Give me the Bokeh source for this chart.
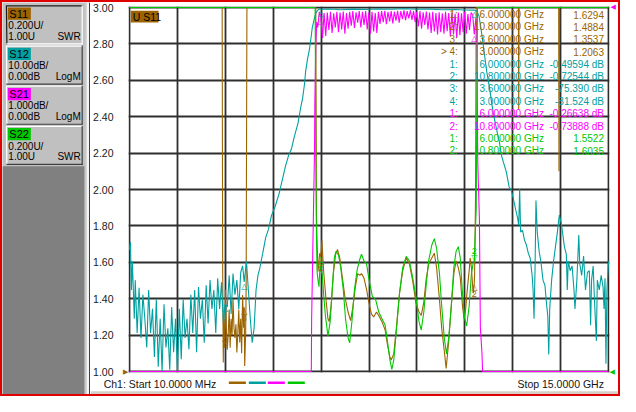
import numpy as np
from bokeh.core.properties import value
from bokeh.embed import file_html
from bokeh.layouts import column, row
from bokeh.models import (ColumnDataSource, FixedTicker, Grid, LinearAxis,
                          PrintfTickFormatter, Range1d)
from bokeh.plotting import figure
from bokeh.resources import INLINE

# ---- channel setup ----
start_ghz, stop_ghz = 0.01, 15.0
n_div = 10
swr_ref, swr_per_div = 1.00, 0.200      # S11 / S22, ref line at bottom
s12_ref, s12_per_div = 0.0, 10.0        # dB, ref line at top
s21_ref, s21_per_div = 0.0, 1.0         # dB, ref line at top

traces = ["S11", "S12", "S21", "S22"]
trace_scale = ["0.200U/", "10.00dB/", "1.000dB/", "0.200U/"]
trace_refval = ["1.00U", "0.00dB", "0.00dB", "1.00U"]
trace_format = ["SWR", "LogM", "LogM", "SWR"]
trace_colors = ["#9c6400", "#00a0a0", "#ff00ff", "#00c800"]

swr_ticks = [1.00, 1.20, 1.40, 1.60, 1.80, 2.00, 2.20, 2.40, 2.60, 2.80, 3.00]

# ---- traces ----
s11_freq = [0.01, 2.91, 2.925, 2.945, 2.96, 2.98, 3.00, 3.01, 3.04, 3.07,
            3.10, 3.13, 3.16, 3.19, 3.22, 3.25, 3.28, 3.31, 3.34, 3.37,
            3.40, 3.43, 3.46, 3.49, 3.52, 3.55, 3.58, 3.60, 3.615, 3.645,
            3.66, 3.675, 3.685, 5.84, 5.86, 5.88, 5.91, 5.94, 5.96, 6.00,
            6.03, 6.09, 6.16, 6.22, 6.26, 6.32, 6.39, 6.46, 6.52, 6.59,
            6.67, 6.75, 6.85, 6.93, 7.00, 7.08, 7.15, 7.22, 7.27, 7.35,
            7.43, 7.50, 7.58, 7.65, 7.74, 7.81, 7.91, 8.01, 8.08, 8.16,
            8.20, 8.28, 8.36, 8.46, 8.56, 8.67, 8.77, 8.87, 8.97, 9.07,
            9.14, 9.22, 9.29, 9.37, 9.47, 9.55, 9.62, 9.71, 9.78, 9.86,
            9.92, 10.00, 10.08, 10.16, 10.23, 10.30, 10.36, 10.43, 10.48, 10.53,
            10.58, 10.64, 10.67, 10.71, 10.75, 10.77, 10.80, 10.81, 10.84, 10.86,
            12.18, 12.19, 12.20, 13.44, 13.45, 13.47, 15.00]
s11_swr = [3.0, 3.0, 1.59, 1.05, 1.29, 1.13, 1.2063, 1.45, 1.24, 1.12,
           1.21, 1.34, 1.13, 1.29, 1.20, 1.40, 1.24, 1.185, 1.26, 1.105,
           1.21, 1.34, 1.16, 1.29, 1.10, 1.42, 1.24, 1.3537, 1.03, 1.21,
           1.45, 2.40, 3.0, 3.0, 1.87, 1.71, 1.55, 1.60, 1.65, 1.6294,
           1.72, 1.54, 1.396, 1.29, 1.274, 1.36, 1.538, 1.644, 1.67, 1.624,
           1.519, 1.413, 1.327, 1.28, 1.354, 1.466, 1.538, 1.528, 1.538, 1.512,
           1.45, 1.38, 1.317, 1.30, 1.327, 1.308, 1.274, 1.228, 1.149, 1.08,
           1.063, 1.097, 1.237, 1.43, 1.554, 1.624, 1.59, 1.501, 1.38, 1.327,
           1.308, 1.38, 1.501, 1.59, 1.624, 1.65, 1.571, 1.396, 1.237, 1.114,
           1.017, 1.167, 1.36, 1.538, 1.607, 1.571, 1.519, 1.36, 1.29, 1.343,
           1.45, 1.554, 1.624, 1.571, 1.466, 1.43, 1.4884, 1.538, 1.976, 3.0,
           3.0, 2.44, 3.0, 3.0, 2.10, 3.0, 3.0]

s12_freq = [0.01, 0.04, 0.07, 0.10, 0.16, 0.19, 0.25, 0.31, 0.37, 0.43,
            0.49, 0.55, 0.61, 0.67, 0.73, 0.79, 0.85, 0.91, 0.97, 1.03,
            1.09, 1.15, 1.21, 1.27, 1.33, 1.39, 1.45, 1.51, 1.57, 1.63,
            1.69, 1.75, 1.81, 1.87, 1.93, 1.99, 2.05, 2.11, 2.17, 2.23,
            2.29, 2.35, 2.41, 2.47, 2.53, 2.59, 2.65, 2.71, 2.77, 2.83,
            2.89, 2.95, 3.00, 3.07, 3.13, 3.19, 3.25, 3.31, 3.37, 3.43,
            3.49, 3.55, 3.60, 3.67, 3.73, 3.79, 3.85, 3.91, 3.97, 4.03,
            4.09, 4.18, 4.27, 4.36, 4.45, 4.57, 4.69, 4.81, 4.90, 4.99,
            5.08, 5.17, 5.28, 5.37, 5.43, 5.49, 5.52, 5.58, 5.64, 5.70,
            5.73, 5.79, 5.83, 5.89, 5.95, 6.00, 6.30, 6.60, 7.00, 7.40,
            7.80, 8.20, 8.60, 9.00, 9.40, 9.80, 10.20, 10.50, 10.80, 10.88,
            10.95, 11.04, 11.10, 11.19, 11.28, 11.35, 11.43, 11.49, 11.59, 11.65,
            11.71, 11.80, 11.89, 11.95, 12.01, 12.10, 12.16, 12.19, 12.22, 12.25,
            12.31, 12.37, 12.43, 12.49, 12.55, 12.61, 12.64, 12.67, 12.70, 12.73,
            12.77, 12.83, 12.89, 12.95, 13.01, 13.07, 13.10, 13.13, 13.16, 13.22,
            13.28, 13.34, 13.40, 13.46, 13.53, 13.56, 13.62, 13.68, 13.71, 13.74,
            13.80, 13.86, 13.92, 13.95, 14.01, 14.07, 14.10, 14.16, 14.22, 14.28,
            14.34, 14.40, 14.44, 14.47, 14.52, 14.56, 14.62, 14.65, 14.71, 14.77,
            14.83, 14.86, 14.89, 14.92, 14.95, 15.00]
s12_db = [-66.5, -64.4, -77.6, -69.7, -85.5, -74.9, -89.4, -77.0, -90.8, -78.9,
          -85.5, -93.4, -77.6, -89.4, -82.8, -96.0, -80.2, -98.7, -85.5, -100.0,
          -81.5, -93.4, -88.1, -99.5, -82.3, -94.7, -85.5, -100.0, -82.8, -96.6,
          -80.2, -90.8, -85.5, -93.9, -78.9, -89.4, -77.6, -94.7, -76.8, -85.5,
          -80.2, -92.1, -76.3, -86.8, -74.9, -82.8, -77.6, -89.4, -74.4, -82.8,
          -75.5, -86.8, -81.5, -82.3, -73.6, -84.2, -73.1, -78.9, -74.9, -82.8,
          -72.8, -71.0, -75.4, -69.7, -77.6, -85.5, -92.1, -88.1, -77.6, -73.6,
          -71.5, -67.5, -63.3, -60.9, -57.3, -54.6, -51.2, -46.7, -43.3, -40.6,
          -38.8, -35.4, -31.9, -27.4, -24.8, -20.8, -17.7, -14.2, -11.6, -7.7,
          -5.5, -3.2, -1.8, -0.8, -0.4, -0.50, -0.40, -0.62, -0.45, -0.55,
          -0.40, -0.50, -0.35, -0.50, -0.45, -0.60, -0.55, -0.68, -0.73, -1.0,
          -2.4, -7.7, -11.6, -17.7, -22.2, -26.6, -30.6, -33.2, -37.2, -40.6,
          -42.5, -45.1, -49.3, -50.1, -52.0, -55.7, -58.0, -59.9, -49.9, -61.7,
          -61.2, -63.9, -65.2, -67.5, -68.9, -73.6, -77.6, -85.5, -72.3, -53.0,
          -61.7, -67.0, -70.2, -74.9, -76.3, -82.3, -84.7, -95.3, -82.8, -74.9,
          -69.7, -65.7, -61.7, -57.0, -59.6, -61.7, -65.7, -67.8, -77.6, -69.7,
          -72.3, -71.0, -77.6, -82.8, -74.9, -62.5, -70.4, -73.6, -68.3, -77.6,
          -72.8, -72.3, -87.3, -74.9, -71.0, -80.2, -91.6, -74.9, -77.6, -73.6,
          -76.8, -82.8, -74.4, -97.9, -77.6, -69.7]

s21_freq = [0.01, 5.70, 5.71, 5.77, 5.80, 5.81, 5.84, 5.87,
            5.90, 5.95, 6.00, 6.05, 6.10, 6.15, 6.20, 6.25, 6.30, 6.35,
            6.40, 6.45, 6.50, 6.55, 6.60, 6.65, 6.70, 6.75, 6.80, 6.85,
            6.90, 6.95, 7.00, 7.05, 7.10, 7.15, 7.20, 7.25, 7.30, 7.35,
            7.40, 7.45, 7.50, 7.55, 7.60, 7.65, 7.70, 7.75, 7.80, 7.85,
            7.90, 7.95, 8.00, 8.05, 8.10, 8.15, 8.20, 8.25, 8.30, 8.35,
            8.40, 8.45, 8.50, 8.55, 8.60, 8.65, 8.70, 8.75, 8.80, 8.85,
            8.90, 8.95, 9.00, 9.05, 9.10, 9.15, 9.20, 9.25, 9.30, 9.35,
            9.40, 9.45, 9.50, 9.55, 9.60, 9.65, 9.70, 9.75, 9.80, 9.85,
            9.90, 9.95, 10.00, 10.05, 10.10, 10.15, 10.20, 10.25, 10.30, 10.35,
            10.40, 10.45, 10.50, 10.55, 10.60, 10.65, 10.70, 10.75, 10.80, 10.85,
            10.88, 10.89, 10.91, 10.96, 10.99, 11.04, 11.06, 15.00]
s21_db = [-10.0, -10.0, -8.55, -5.46, -3.96, -2.66, -1.00, -0.40,
          -0.55, -0.12, -0.27, -0.84, -0.15, -0.78, -0.14, -0.62, -0.12, -0.70,
          -0.16, -0.55, -0.12, -0.68, -0.14, -0.60, -0.11, -0.72, -0.15, -0.58,
          -0.12, -0.50, -0.10, -0.56, -0.13, -0.42, -0.10, -0.55, -0.12, -0.48,
          -0.10, -0.60, -0.14, -0.72, -0.12, -0.66, -0.15, -0.70, -0.12, -0.45,
          -0.10, -0.40, -0.09, -0.46, -0.12, -0.38, -0.10, -0.44, -0.11, -0.36,
          -0.09, -0.42, -0.10, -0.32, -0.08, -0.35, -0.10, -0.30, -0.08, -0.34,
          -0.10, -0.40, -0.12, -0.52, -0.10, -0.58, -0.13, -0.48, -0.11, -0.60,
          -0.14, -0.70, -0.12, -0.66, -0.15, -0.74, -0.13, -0.68, -0.16, -0.72,
          -0.12, -0.65, -0.15, -0.78, -0.13, -0.74, -0.17, -0.84, -0.14, -0.76,
          -0.16, -0.68, -0.12, -0.72, -0.18, -0.62, -0.14, -0.20, -0.74, -0.30,
          -0.60, -2.00, -4.30, -5.80, -8.80, -9.50, -10.0, -10.0]

s22_freq = [0.01, 5.78, 5.82, 5.84, 5.86, 5.88, 5.91, 5.94, 5.97, 6.00,
            6.04, 6.09, 6.14, 6.22, 6.29, 6.36, 6.42, 6.47, 6.55, 6.62,
            6.70, 6.77, 6.85, 6.90, 6.97, 7.05, 7.13, 7.20, 7.27, 7.35,
            7.43, 7.50, 7.61, 7.71, 7.81, 7.91, 8.01, 8.08, 8.16, 8.22,
            8.28, 8.36, 8.46, 8.56, 8.67, 8.77, 8.87, 8.97, 9.07, 9.14,
            9.22, 9.29, 9.37, 9.47, 9.55, 9.62, 9.71, 9.78, 9.86, 9.93,
            10.00, 10.08, 10.16, 10.23, 10.30, 10.36, 10.43, 10.50, 10.56, 10.64,
            10.71, 10.77, 10.80, 10.82, 10.86, 10.88, 10.90, 15.00]
s22_swr = [3.0, 3.0, 3.0, 2.20, 1.75, 1.55, 1.50, 1.466, 1.58, 1.552,
           1.538, 1.413, 1.308, 1.195, 1.274, 1.466, 1.624, 1.660, 1.640, 1.570,
           1.450, 1.290, 1.185, 1.158, 1.274, 1.450, 1.554, 1.607, 1.644, 1.607,
           1.590, 1.510, 1.413, 1.396, 1.327, 1.290, 1.255, 1.169, 1.063, 1.012,
           1.063, 1.220, 1.430, 1.571, 1.633, 1.607, 1.519, 1.413, 1.274, 1.228,
           1.327, 1.466, 1.607, 1.695, 1.730, 1.677, 1.538, 1.360, 1.185, 1.097,
           1.185, 1.360, 1.571, 1.660, 1.686, 1.624, 1.430, 1.290, 1.250, 1.360,
           1.538, 1.600, 1.6035, 1.710, 1.890, 2.500, 3.0, 3.0]

# ---- markers ----
marker_freq = [6.0, 10.8, 3.6, 3.0]
s11_marker = [1.6294, 1.4884, 1.3537, 1.2063]
s12_marker = [-0.49594, -0.72544, -75.390, -81.524]
s21_marker = [-0.26638, -0.73888]
s22_marker = [1.5522, 1.6035]
active_marker = 4   # on S11

# ---- page layout (reference screen is 636x412 with a 2px red frame) ----
BORDER = 2
IW, IH = 616, 392
SX, SY = IW / 632, IH / 406
PANEL_W = 88
MAIN_W = IW - PANEL_W
MAIN_H = 376
FOOT_H = IH - MAIN_H
ML, MR, MT, MB = 37, 8, 4, 6
FRAME_W = MAIN_W - ML - MR
FRAME_H = MAIN_H - MT - MB
FONT = "Liberation Sans"


def ghz_at(px):
    # screen column of the original display -> GHz
    return start_ghz + (px - 130.7) / 495 * (stop_ghz - start_ghz)


def swr_at(py):
    # screen row of the original display -> SWR units
    return swr_ref + (385 - py) / 379 * n_div * swr_per_div


swr_top = swr_ref + n_div * swr_per_div
s12_bot = s12_ref - n_div * s12_per_div
s21_bot = s21_ref - n_div * s21_per_div
xpad = (stop_ghz - start_ghz) / FRAME_W
ypad = 1.0 / FRAME_H

p = figure(width=MAIN_W, height=MAIN_H, output_backend="svg", toolbar_location=None,
           x_range=Range1d(start_ghz - xpad, stop_ghz + xpad),
           y_range=Range1d(swr_ref - ypad * 2.0, swr_top + ypad * 2.0),
           x_axis_type=None, y_axis_type=None, min_border_left=ML, min_border_right=MR,
           min_border_top=MT, min_border_bottom=MB, frame_align=False)
p.extra_y_ranges = {
    "s12": Range1d(s12_bot - ypad * 100, s12_ref + ypad * 100),
    "s21": Range1d(s21_bot - ypad * 10, s21_ref + ypad * 10),
}
p.background_fill_color = "white"
p.border_fill_color = "white"
p.outline_line_color = None

xdiv = list(np.linspace(start_ghz, stop_ghz, n_div + 1))
p.add_layout(Grid(dimension=0, ticker=FixedTicker(ticks=xdiv),
                  grid_line_color="#2e2e2e", grid_line_width=1.8))
p.add_layout(Grid(dimension=1, ticker=FixedTicker(ticks=swr_ticks),
                  grid_line_color="#2e2e2e", grid_line_width=1.8))


def bare_axis(ticks, **kw):
    ax = LinearAxis(ticker=FixedTicker(ticks=ticks), axis_line_color=None,
                    major_tick_line_color=None, minor_tick_line_color=None,
                    major_tick_out=0, major_tick_in=0, **kw)
    return ax


# reference position arrows next to the grid, then the SWR scale
p.add_layout(bare_axis([swr_ref], major_label_overrides={swr_ref: "\u25b6"},
                       major_label_standoff=0, major_label_text_color=trace_colors[0],
                       major_label_text_font="DejaVu Sans",
                       major_label_text_font_size="7px"), "left")
p.add_layout(bare_axis(swr_ticks, formatter=PrintfTickFormatter(format="%.2f"),
                       major_label_standoff=7, major_label_text_color="#1a1a1a",
                       major_label_text_font=FONT,
                       major_label_text_font_size="10.5px"), "left")
p.add_layout(bare_axis([swr_ref], major_label_overrides={swr_ref: "\u25c0"},
                       major_label_standoff=0, major_label_text_color=trace_colors[3],
                       major_label_text_font="DejaVu Sans",
                       major_label_text_font_size="7px"), "right")
p.add_layout(bare_axis([s21_ref], y_range_name="s21",
                       major_label_overrides={s21_ref: "\u25c0"},
                       major_label_standoff=-7, major_label_text_color=trace_colors[2],
                       major_label_text_font="DejaVu Sans",
                       major_label_text_font_size="7px"), "right")

lw = 1.1
p.line(s11_freq, np.clip(s11_swr, swr_ref, swr_top), color=trace_colors[0], line_width=lw)
p.line(s12_freq, np.clip(s12_db, s12_bot, s12_ref), color=trace_colors[1], line_width=lw,
       y_range_name="s12")
p.line(s21_freq, np.clip(s21_db, s21_bot, s21_ref), color=trace_colors[2], line_width=lw,
       y_range_name="s21")
p.line(s22_freq, np.clip(s22_swr, swr_ref, swr_top), color=trace_colors[3], line_width=lw)

# marker symbols on the traces
sym = dict(text_font=value("DejaVu Sans"), text_font_size="8px", text_align="center")
num = dict(text_font=value(FONT), text_font_size="9px", text_align="center")
n11 = [str(i + 1) for i in range(len(s11_marker))]
p.text(marker_freq, s11_marker, text=["\u25b3"] * 4, text_baseline="top",
       text_color=trace_colors[0], **sym)
p.text(marker_freq, s11_marker, text=n11, text_baseline="top", y_offset=8,
       text_color=trace_colors[0], **num)
p.text(marker_freq, s12_marker, text=["\u25b3"] * 4, text_baseline="top",
       text_color=trace_colors[1], y_range_name="s12", **sym)
p.text(marker_freq[:2], s21_marker, text=["\u25b3"] * 2, text_baseline="top",
       text_color=trace_colors[2], y_range_name="s21", **sym)
p.text(marker_freq[:2], s22_marker, text=["\u25bd"] * 2, text_baseline="bottom",
       text_color=trace_colors[3], **sym)
p.text(marker_freq[:2], s22_marker, text=["1", "2"], text_baseline="bottom", y_offset=-8,
       text_color=trace_colors[3], **num)

# active trace tag
p.quad(left=[ghz_at(132)], right=[ghz_at(160.7)], top=[swr_at(9.3)], bottom=[swr_at(21.7)],
       fill_color=trace_colors[0], line_color=None)
p.text([ghz_at(134)], [swr_at(15.6)], text=["U S11"], text_color="black",
       text_font=value(FONT), text_font_size="10.5px", text_baseline="middle")

# marker readout table
rd = dict(lab=[], frq=[], val=[], col=[])
for k, (vals, unit) in enumerate([(s11_marker, ""), (s12_marker, " dB"),
                                  (s21_marker, " dB"), (s22_marker, "")]):
    for i, v in enumerate(vals):
        lab = f"{i + 1}:"
        if k == 0 and i + 1 == active_marker:
            lab = f"> {lab}"
        rd["lab"].append(lab)
        rd["frq"].append(f"{marker_freq[i]:.6f} GHz")
        rd["val"].append(f"{v:#.5g}{unit}")
        rd["col"].append(trace_colors[k])
n_rows = len(rd["lab"])
rd["y"] = [swr_at(13.3 + 12.9 * i) for i in range(n_rows)]
rsrc = ColumnDataSource(rd)
for field, px in [("lab", 470), ("frq", 559), ("val", 621)]:
    p.text(x=ghz_at(px), y="y", text=field, source=rsrc, text_color="col",
           text_align="right", text_baseline="middle",
           text_font=value(FONT), text_font_size="10px")

# ---- sweep range line under the grid ----
foot_top = 2 + MAIN_H / SY
foot = figure(width=MAIN_W, height=FOOT_H, output_backend="svg", toolbar_location=None,
              x_range=Range1d(92, 634), y_range=Range1d(409, foot_top),
              x_axis_type=None, y_axis_type=None, min_border=0, frame_align=False)
foot.outline_line_color = None
foot.background_fill_color = "white"
foot.border_fill_color = "white"
foot.quad(left=[92], right=[634], top=[405.5], bottom=[409], fill_color="#d4d0c8",
          line_color=None)
foot.text([105.5], [398], text=[f"Ch1: Start  {start_ghz * 1000:.4f} MHz"],
          text_color="#141414", text_baseline="middle",
          text_font=value(FONT), text_font_size="10.5px")
foot.text([622], [398], text=[f"Stop  {stop_ghz:.4f} GHz"], text_color="#141414",
          text_align="right", text_baseline="middle",
          text_font=value(FONT), text_font_size="10.5px")
sw_x0 = [234, 254.5, 274, 294.5]
foot.segment(x0=sw_x0, y0=[396] * 4, x1=[x + 17.5 for x in sw_x0], y1=[396] * 4,
             line_color=trace_colors, line_width=2.5)

# ---- left trace panel ----
panel = figure(width=PANEL_W, height=IH, output_backend="svg", toolbar_location=None,
               x_range=Range1d(2, 92), y_range=Range1d(409, 2),
               x_axis_type=None, y_axis_type=None, min_border=0, frame_align=False)
panel.outline_line_color = None
panel.background_fill_color = "#c0c0c0"
panel.border_fill_color = "#c0c0c0"
panel.quad(left=[2], right=[86], top=[172], bottom=[409], fill_color="#808080", line_color=None)
panel.quad(left=[86, 88, 90.5], right=[88, 90.5, 92], top=[2] * 3, bottom=[409] * 3,
           fill_color=["#c8c8c8", "#f4f4f4", "#3c3c3c"], line_color=None)

btn_top = [5 + 41.7 * i for i in range(len(traces))]
btn_h = 40.5
for i, name in enumerate(traces):
    t = btn_top[i]
    b = t + btn_h
    panel.quad(left=[6], right=[84], top=[t], bottom=[b], fill_color="#c0c0c0", line_color=None)
    hi, lo = ("#1e1e1e", "white") if i == 0 else ("white", "#404040")
    panel.segment(x0=[6, 6], y0=[t + 0.5, t], x1=[84, 6.5], y1=[t + 0.5, b],
                  line_color=hi, line_width=1.2)
    panel.segment(x0=[6, 83.5], y0=[b - 0.5, t], x1=[84, 83.5], y1=[b - 0.5, b],
                  line_color=lo, line_width=1.2)
    panel.quad(left=[7.5], right=[31], top=[t + 2.3], bottom=[t + 15],
               fill_color=trace_colors[i], line_color=None)
    panel.text([9], [t + 8.8], text=[name], text_color="black", text_baseline="middle",
               text_font=value(FONT), text_font_size="11px")
    panel.text([8], [t + 21], text=[trace_scale[i]], text_color="black",
               text_baseline="middle", text_font=value(FONT), text_font_size="10px")
    panel.text([8], [t + 32], text=[trace_refval[i]], text_color="black",
               text_baseline="middle", text_font=value(FONT), text_font_size="10px")
    panel.text([82], [t + 32], text=[trace_format[i]], text_color="black",
               text_align="right", text_baseline="middle",
               text_font=value(FONT), text_font_size="10px")

layout = row(panel, column(p, foot), styles={"border": f"{BORDER}px solid #e00000"})
open("out.html", "w").write(file_html(layout, INLINE))
